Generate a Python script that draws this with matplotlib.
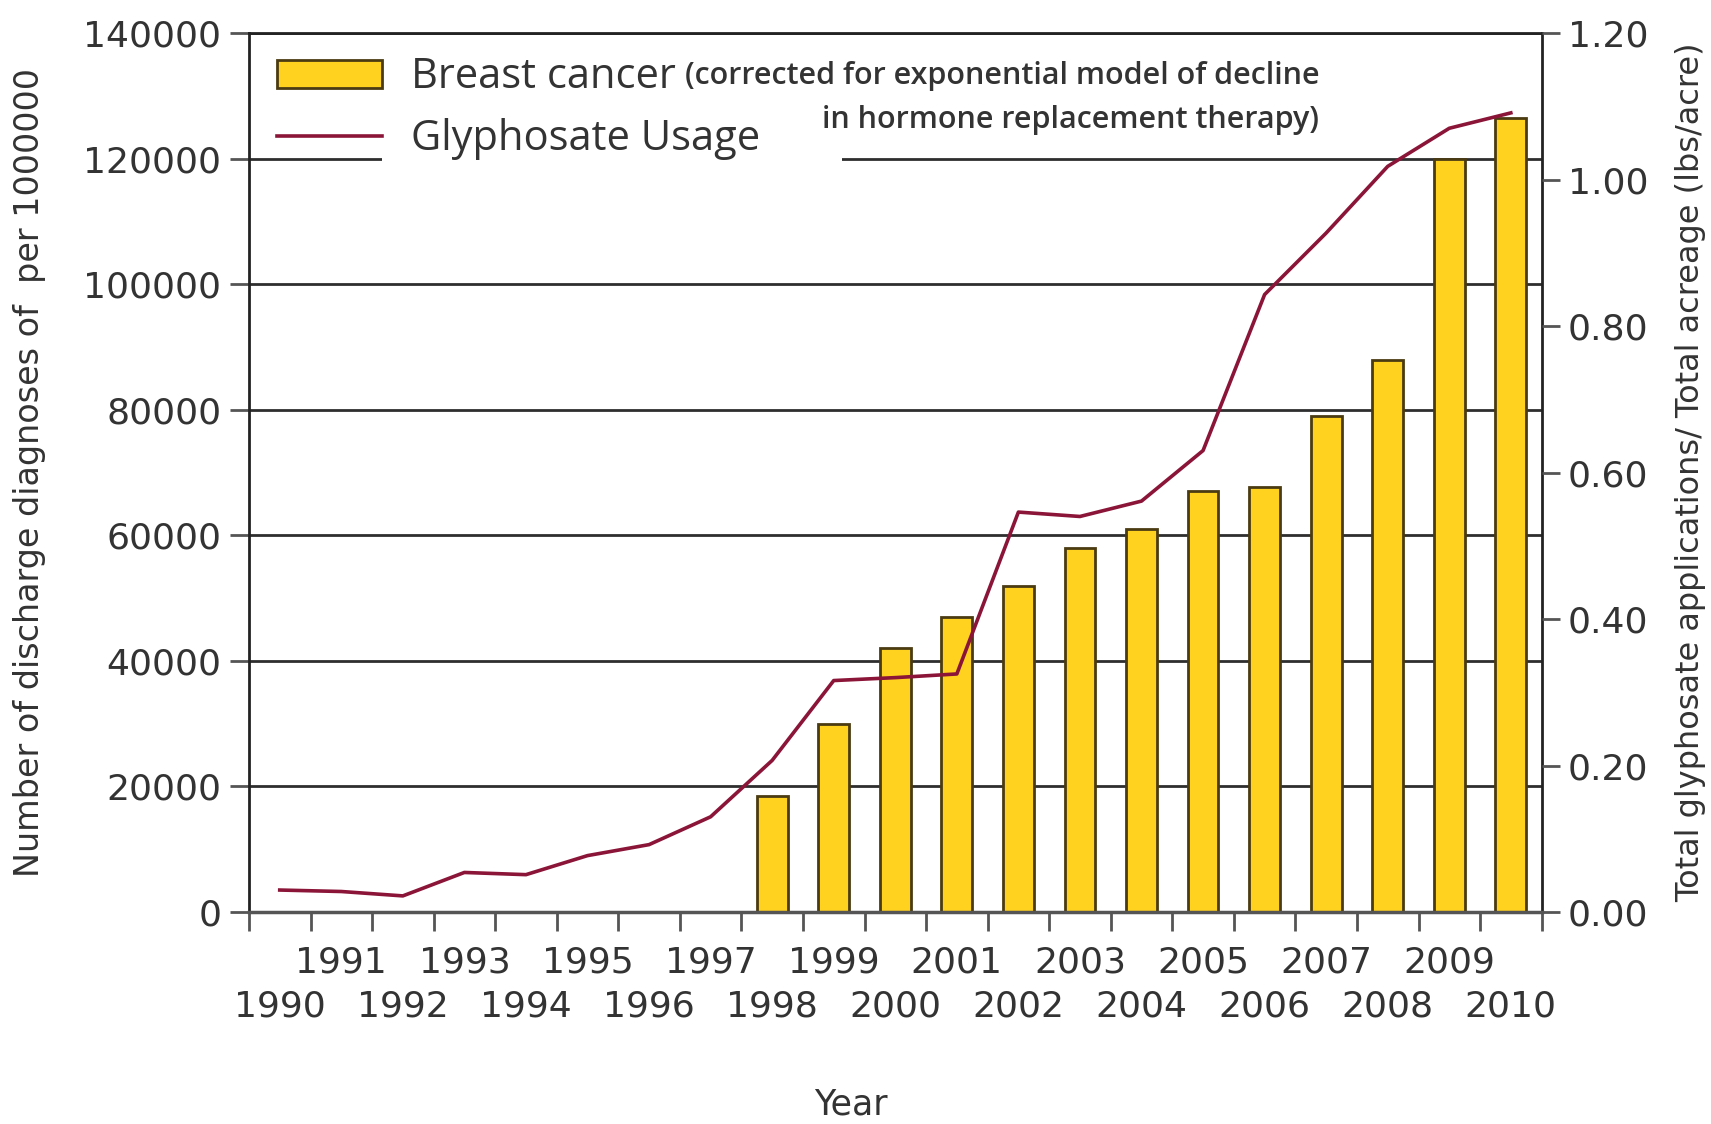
import matplotlib
matplotlib.use("Agg")
import matplotlib.pyplot as plt
from matplotlib.patches import Patch, Rectangle
from matplotlib.lines import Line2D

# data
years = list(range(1990, 2011))
cancer_years = list(range(1998, 2011))
breast_cancer = [18500, 30000, 42000, 47000, 52000, 58000, 61000,
                 67000, 67700, 79000, 88000, 120000, 126500]
glyphosate = [0.030, 0.028, 0.022, 0.054, 0.051, 0.077, 0.092, 0.130,
              0.207, 0.316, 0.320, 0.325, 0.546, 0.540, 0.561, 0.630,
              0.843, 0.927, 1.018, 1.070, 1.091]
left_ticks = [0, 20000, 40000, 60000, 80000, 100000, 120000, 140000]
right_ticks = [0.0, 0.2, 0.4, 0.6, 0.8, 1.0, 1.2]

bar_color = "#FFD21F"
bar_edge = "#4a3b12"
line_color = "#8B1538"
text_color = "#333333"
grid_color = "#2e2e2e"

plt.rcParams['font.family'] = ['DejaVu Sans']

fig = plt.figure(figsize=(17.11, 11.24), dpi=100)
ax = fig.add_axes([0.1455, 0.1886, 0.7555, 0.782])

pos = {y: i for i, y in enumerate(years)}
bar_x = [pos[y] for y in cancer_years]
ax.bar(bar_x, breast_cancer, width=0.5, color=bar_color, edgecolor=bar_edge,
       linewidth=2, zorder=2)

ax.set_xlim(-0.5, len(years) - 0.5)
ax.set_ylim(0, 140000)
ax.set_yticks(left_ticks)
ax.set_yticklabels([str(v) for v in left_ticks])
ax.set_axisbelow(True)
ax.grid(axis='y', color=grid_color, linewidth=2)
ax.grid(axis='x', visible=False)

# year ticks: marks at slot boundaries, labels at slot centers in two rows
odd_years = [y for y in years if y % 2]
even_years = [y for y in years if y % 2 == 0]
ax.set_xticks([i - 0.5 for i in range(len(years) + 1)])
ax.set_xticklabels([])
ax.set_xticks([pos[y] for y in odd_years], minor=True)
ax.set_xticklabels([str(y) for y in odd_years], minor=True)
ax.tick_params(axis='x', which='major', direction='out', length=14, width=2,
               color='#555555')
ax.tick_params(axis='x', which='minor', length=0, pad=24, labelsize=26,
               labelcolor=text_color)

sec = ax.secondary_xaxis('bottom')
sec.set_xticks([pos[y] for y in even_years])
sec.set_xticklabels([str(y) for y in even_years])
sec.tick_params(axis='x', length=0, pad=55.5, labelsize=26, labelcolor=text_color)
sec.spines['bottom'].set_visible(False)

ax.tick_params(axis='y', direction='out', length=14, width=2, color='#555555',
               labelsize=26, labelcolor=text_color, pad=6)

for side in ['left', 'right', 'top']:
    ax.spines[side].set_color('#222222')
    ax.spines[side].set_linewidth(2)
ax.spines['bottom'].set_color('#555555')
ax.spines['bottom'].set_linewidth(2.5)

ax.set_ylabel("Number of discharge diagnoses of  per 1000000", fontsize=24,
              color=text_color)
ax.yaxis.set_label_coords(-0.157, 0.5)
ax.set_xlabel("Year", fontsize=25, color=text_color)
ax.xaxis.set_label_coords(0.466, -0.200)

# white box behind the legend text hides part of the 120000 grid line
ax.add_patch(Rectangle((0.103, 0.835), 0.356, 0.04, transform=ax.transAxes,
                       facecolor='white', edgecolor='none', zorder=1))

ax2 = ax.twinx()
ax2.plot(range(len(years)), glyphosate, color=line_color, linewidth=2.6, zorder=3)
ax2.set_ylim(0, 1.2)
ax2.set_yticks(right_ticks)
ax2.set_yticklabels([f"{v:.2f}" for v in right_ticks])
ax2.tick_params(axis='y', direction='out', length=13, width=2, color='#555555',
                labelsize=26, labelcolor=text_color, pad=6)
for side in ['left', 'right', 'top', 'bottom']:
    ax2.spines[side].set_visible(False)
ax2.set_ylabel("Total glyphosate applications/ Total acreage (lbs/acre)",
               fontsize=23, color=text_color)
ax2.yaxis.set_label_coords(1.103, 0.5)

handles = [Patch(facecolor=bar_color, edgecolor=bar_edge, linewidth=2),
           Line2D([], [], color=line_color, linewidth=2.6)]
leg = ax2.legend(handles, ["Breast cancer", "Glyphosate Usage"], loc='upper left',
                 bbox_to_anchor=(-0.007, 1.016), frameon=False,
                 prop={'family': 'Open Sans', 'size': 30},
                 handlelength=2.5, handleheight=0.65, handletextpad=0.71,
                 labelspacing=0.48)
for t in leg.get_texts():
    t.set_color(text_color)

ax2.text(0.828, 0.951, "(corrected for exponential model of decline",
         transform=ax2.transAxes, ha='right', va='center', fontsize=22,
         family='Open Sans', weight='semibold', color=text_color)
ax2.text(0.828, 0.901, "in hormone replacement therapy)",
         transform=ax2.transAxes, ha='right', va='center', fontsize=22,
         family='Open Sans', weight='semibold', color=text_color)

fig.savefig("out.png", dpi=100)
